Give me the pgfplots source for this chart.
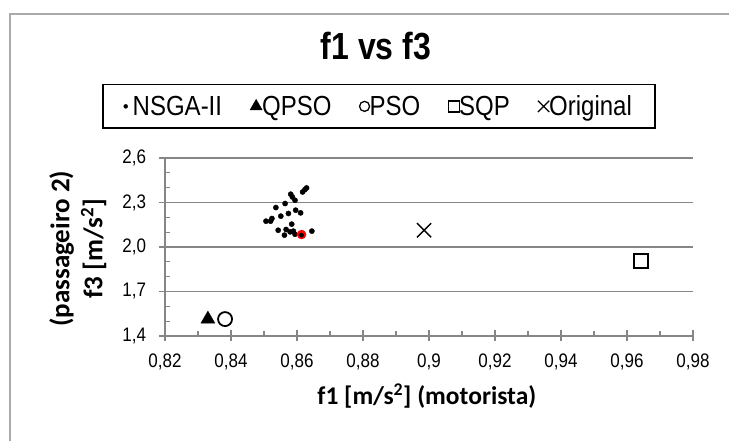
\documentclass[border=0pt]{standalone}
\usepackage{pgfplots}
\pgfplotsset{compat=1.18}
\usepackage{fontspec}
\setmainfont{Liberation Sans}
\newfontfamily\calibri{Carlito}
\definecolor{gridgray}{RGB}{134,134,134}
\definecolor{framegray}{RGB}{170,170,170}
\newcommand\vs[1]{\scalebox{1}[1.15]{#1}}
\begin{document}
\begin{tikzpicture}
\useasboundingbox (0pt,0pt) rectangle (729pt,441pt);
\draw[framegray, line width=1.2pt] (10pt,-2pt) -- (10pt,427pt) -- (731pt,427pt);
\node[anchor=base, font=\fontsize{32}{36}\selectfont\bfseries] at (376pt,381pt) {\scalebox{1}[1.18]{f1 vs f3}};
\begin{axis}[
  at={(165pt,105pt)}, anchor=south west,
  scale only axis, width=528pt, height=178pt,
  xmin=0.82, xmax=0.98, ymin=1.4, ymax=2.6,
  axis x line*=bottom, axis y line*=left,
  axis line style={gridgray, line width=1.5pt},
  xtick={0.82,0.84,0.86,0.88,0.90,0.92,0.94,0.96,0.98},
  xticklabels={{\vs{0,82}},{\vs{0,84}},{\vs{0,86}},{\vs{0,88}},{\vs{0,9}},{\vs{0,92}},{\vs{0,94}},{\vs{0,96}},{\vs{0,98}}},
  ytick={1.4,1.7,2.0,2.3,2.6},
  yticklabels={{\vs{1,4}},{\vs{1,7}},{\vs{2,0}},{\vs{2,3}},{\vs{2,6}}},
  extra x ticks={0.83,0.85,0.87,0.89,0.91,0.93,0.95,0.97},
  extra x tick labels={},
  extra y ticks={1.5,1.6,1.8,1.9,2.1,2.2,2.4,2.5},
  extra y tick labels={},
  extra tick style={grid=none, tick align=inside, major tick length=5pt},
  tick align=center, major tick length=11pt,
  tick style={gridgray, line width=1.2pt},
  ymajorgrids, grid style={gridgray, line width=1.5pt},
  ticklabel style={font=\fontsize{17}{19}\selectfont},
  xticklabel style={yshift=-9pt},
  yticklabel style={xshift=-10pt},
  xlabel={f1 [m/s\textsuperscript{2}] (motorista)},
  xlabel style={at={(axis description cs:0.496,-0.385)}, anchor=base, font=\calibri\bfseries\fontsize{25.5}{28}\selectfont},
  ylabel={(passageiro 2)\\f3 [m/s\textsuperscript{2}]},
  ylabel style={at={(axis description cs:-0.165,0.49)}, anchor=center, align=center, font=\calibri\bfseries\fontsize{27}{33}\selectfont},
  clip=false,
  legend columns=5,
  legend style={at={(axis description cs:0.405,1.29)}, anchor=center, draw=black, line width=1.6pt,
    font=\fontsize{24}{26}\selectfont, inner xsep=21pt, inner ysep=9pt,
    /tikz/every even column/.append style={column sep=26pt},
    /tikz/every odd column/.append style={column sep=-2pt}},
  legend image code/.code={\draw[mark repeat=2,mark phase=2,#1] plot coordinates {(0cm,0cm) (0.2cm,0cm) (0.4cm,0cm)};},
]
\addlegendimage{only marks, mark=*, mark size=2pt, black, line width=0.4pt}
\addlegendentry{\hspace{5pt}\vs{NSGA-II}}
\addlegendimage{only marks, mark=triangle*, mark size=7pt, black, line width=0.4pt}
\addlegendentry{\vs{QPSO}}
\addlegendimage{only marks, mark=o, mark size=5pt, black, line width=1.3pt}
\addlegendentry{\vs{PSO}}
\addlegendimage{only marks, mark=square, mark size=5.5pt, black, line width=1.3pt}
\addlegendentry{\vs{SQP}}
\addlegendimage{only marks, mark=x, mark size=8pt, black, line width=1.3pt}
\addlegendentry{\vs{Original}}
\addplot[forget plot, only marks, mark=*, mark size=2.6pt, black] coordinates {
(0.8506,2.174) (0.8520,2.174) (0.8524,2.192) (0.8536,2.266) (0.8551,2.208)
(0.8564,2.293) (0.8574,2.226) (0.8581,2.356) (0.8586,2.337) (0.8594,2.315)
(0.8617,2.371) (0.8624,2.387) (0.8629,2.398) (0.8596,2.248) (0.8611,2.230)
(0.8584,2.154) (0.8543,2.113) (0.8567,2.118) (0.8562,2.080) (0.8579,2.102)
(0.8589,2.107) (0.8594,2.086) (0.8614,2.084) (0.8645,2.107)
};
\addplot[forget plot, only marks, mark=*, mark size=4.5pt, red, mark options={draw=red, fill=red}] coordinates {(0.8614,2.084)};
\addplot[forget plot, only marks, mark=*, mark size=2.2pt, black] coordinates {(0.8614,2.080)};
\addplot[forget plot, only marks, mark=triangle*, mark size=8pt, black] coordinates {(0.8330,1.514)};
\addplot[forget plot, only marks, mark=o, mark size=7pt, black, line width=1.8pt] coordinates {(0.8382,1.514)};
\addplot[forget plot, only marks, mark=square, mark size=6.8pt, black, line width=1.8pt] coordinates {(0.9642,1.905)};
\addplot[forget plot, only marks, mark=x, mark size=10pt, black, line width=1.4pt] coordinates {(0.8985,2.113)};
\end{axis}
\end{tikzpicture}
\end{document}
